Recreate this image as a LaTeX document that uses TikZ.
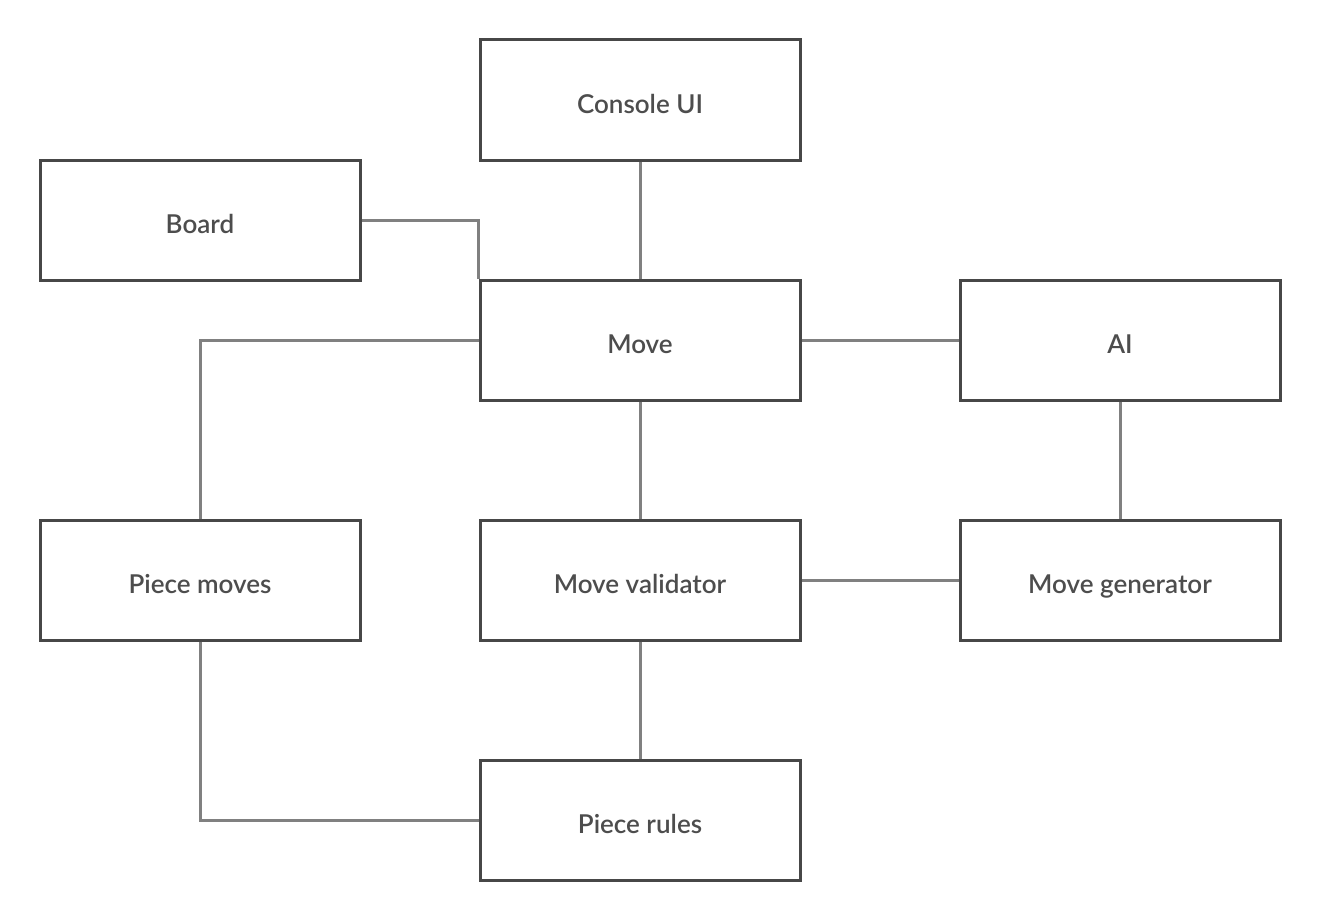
\documentclass[tikz,border=0pt]{standalone}
\usepackage{fontspec}
\setmainfont{Lato}[BoldFont={Lato Semibold}]
\begin{document}
\begin{tikzpicture}[x=0.5pt,y=-0.5pt,
  box/.style={draw=boxc, line width=1.5pt, minimum width=160pt, minimum height=60pt, inner sep=0pt, text=txtc, text height=13pt, text depth=0pt, font=\fontsize{13}{15}\selectfont\bfseries},
  link/.style={draw=linkc, line width=1.5pt}]
\definecolor{boxc}{HTML}{474747}
\definecolor{linkc}{HTML}{808080}
\definecolor{txtc}{HTML}{4D4D4D}
\useasboundingbox (0,0) rectangle (1320,920);
\node[box] (console) at (640,100) {Console UI};
\node[box] (board) at (200,220) {Board};
\node[box] (move) at (640,340) {Move};
\node[box] (ai) at (1120,340) {AI};
\node[box] (pmoves) at (200,580) {Piece moves};
\node[box] (valid) at (640,580) {Move validator};
\node[box] (gen) at (1120,580) {Move generator};
\node[box] (rules) at (640,820) {Piece rules};
\draw[link] (board.east) -| (move.north west);
\draw[link] (console.south) -- (move.north);
\draw[link] (move.west) -| (pmoves.north);
\draw[link] (move.east) -- (ai.west);
\draw[link] (ai.south) -- (gen.north);
\draw[link] (move.south) -- (valid.north);
\draw[link] (valid.east) -- (gen.west);
\draw[link] (valid.south) -- (rules.north);
\draw[link] (pmoves.south) |- (rules.west);
\end{tikzpicture}
\end{document}
